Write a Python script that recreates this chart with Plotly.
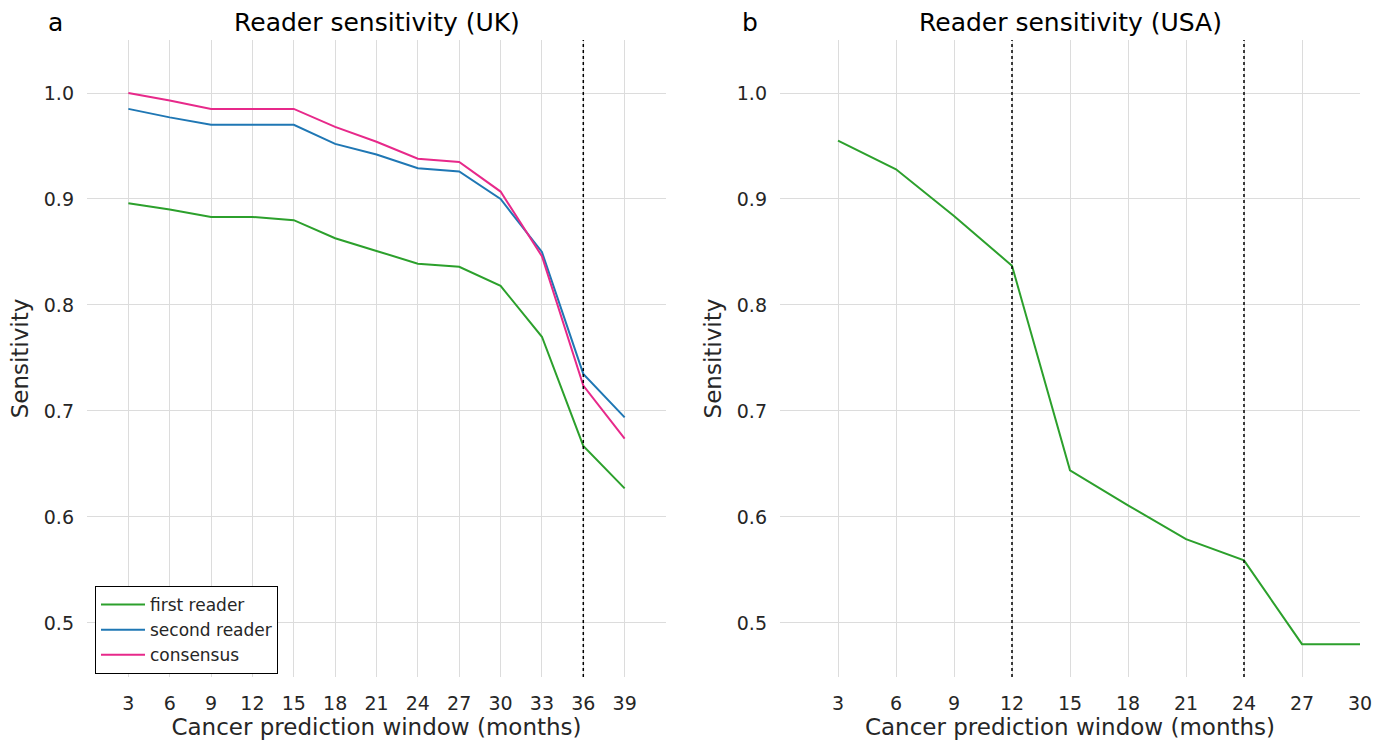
import plotly.graph_objects as go

# ---- data ----
uk_months = [3, 6, 9, 12, 15, 18, 21, 24, 27, 30, 33, 36, 39]
uk_first_reader = [0.896, 0.890, 0.883, 0.883, 0.880, 0.863, 0.851, 0.839, 0.836, 0.818, 0.770, 0.667, 0.627]
uk_second_reader = [0.985, 0.977, 0.970, 0.970, 0.970, 0.952, 0.942, 0.929, 0.926, 0.900, 0.850, 0.735, 0.694]
uk_consensus = [1.000, 0.993, 0.985, 0.985, 0.985, 0.968, 0.954, 0.938, 0.935, 0.907, 0.846, 0.724, 0.674]

usa_months = [3, 6, 9, 12, 15, 18, 21, 24, 27, 30]
usa_first_reader = [0.955, 0.928, 0.884, 0.837, 0.644, 0.611, 0.579, 0.559, 0.480, 0.480]

uk_cutoffs = [36]
usa_cutoffs = [12, 24]

y_ticks = [0.5, 0.6, 0.7, 0.8, 0.9, 1.0]
y_ticktext = ["0.5", "0.6", "0.7", "0.8", "0.9", "1.0"]

GREEN = "#2ca02c"
BLUE = "#1f77b4"
PINK = "#e7298a"
TXT = "#262626"
GRID = "#dcdcdc"
FONT = "DejaVu Sans"

W, H = 1388, 743
def px_x(a, b):
    return [a / W, b / W]
y_dom = [1 - 677 / H, 1 - 40 / H]

fig = go.Figure()
fig.add_trace(go.Scatter(x=uk_months, y=uk_first_reader, mode="lines", name="first reader",
                         line=dict(color=GREEN, width=2), xaxis="x", yaxis="y"))
fig.add_trace(go.Scatter(x=uk_months, y=uk_second_reader, mode="lines", name="second reader",
                         line=dict(color=BLUE, width=2), xaxis="x", yaxis="y"))
fig.add_trace(go.Scatter(x=uk_months, y=uk_consensus, mode="lines", name="consensus",
                         line=dict(color=PINK, width=2), xaxis="x", yaxis="y"))
fig.add_trace(go.Scatter(x=usa_months, y=usa_first_reader, mode="lines", name="first reader",
                         showlegend=False, line=dict(color=GREEN, width=2), xaxis="x2", yaxis="y2"))

for c in uk_cutoffs:
    fig.add_shape(type="line", xref="x", yref="y domain", x0=c, x1=c, y0=0, y1=1,
                  line=dict(color="black", width=1.5, dash="dot"), layer="above")
for c in usa_cutoffs:
    fig.add_shape(type="line", xref="x2", yref="y2 domain", x0=c, x1=c, y0=0, y1=1,
                  line=dict(color="black", width=1.5, dash="dot"), layer="above")

xcommon = dict(showgrid=True, gridcolor=GRID, gridwidth=1, zeroline=False, showline=False,
               automargin=False,
               ticks="", tickfont=dict(size=19, color=TXT, family=FONT),
               ticklabelstandoff=13,
               title=dict(text="Cancer prediction window (months)", standoff=4,
                          font=dict(size=23, color=TXT, family=FONT)))
ycommon = dict(showgrid=True, gridcolor=GRID, gridwidth=1, zeroline=False, showline=False,
               automargin=False,
               ticks="", tickvals=y_ticks, ticktext=y_ticktext, range=[0.449, 1.05],
               tickfont=dict(size=19, color=TXT, family=FONT), ticklabelstandoff=12,
               title=dict(text="Sensitivity", standoff=8,
                          font=dict(size=23, color=TXT, family=FONT)))

fig.update_layout(
    template="plotly_white",
    width=W, height=H,
    margin=dict(l=0, r=0, t=0, b=0),
    paper_bgcolor="white", plot_bgcolor="white",
    font=dict(family=FONT, color=TXT),
    xaxis=dict(xcommon, domain=px_x(87, 666), range=[0, 42], tickvals=uk_months, anchor="y"),
    yaxis=dict(ycommon, domain=y_dom, anchor="x"),
    xaxis2=dict(xcommon, domain=px_x(780, 1360), range=[0, 30], tickvals=usa_months, anchor="y2"),
    yaxis2=dict(ycommon, domain=y_dom, anchor="x2"),
    legend=dict(x=95 / W, y=1 - 586 / H, xanchor="left", yanchor="top",
                bordercolor="black", borderwidth=1, bgcolor="white", itemwidth=44,
                font=dict(size=17, color=TXT, family=FONT), tracegroupgap=0),
    showlegend=True,
    annotations=[
        dict(text="Reader sensitivity (UK)", x=377 / W, y=1 - 22 / H, xref="paper", yref="paper",
             showarrow=False, font=dict(size=25, color="black", family=FONT), xanchor="center", yanchor="middle"),
        dict(text="Reader sensitivity (USA)", x=1070 / W, y=1 - 22 / H, xref="paper", yref="paper",
             showarrow=False, font=dict(size=25, color="black", family=FONT), xanchor="center", yanchor="middle"),
        dict(text="a", x=55 / W, y=1 - 22 / H, xref="paper", yref="paper",
             showarrow=False, font=dict(size=25, color="black", family=FONT), xanchor="center", yanchor="middle"),
        dict(text="b", x=750 / W, y=1 - 22 / H, xref="paper", yref="paper",
             showarrow=False, font=dict(size=25, color="black", family=FONT), xanchor="center", yanchor="middle"),
    ],
)

fig.write_html("out.html", post_script="document.body.style.margin='0';",
               config={"displayModeBar": False})
